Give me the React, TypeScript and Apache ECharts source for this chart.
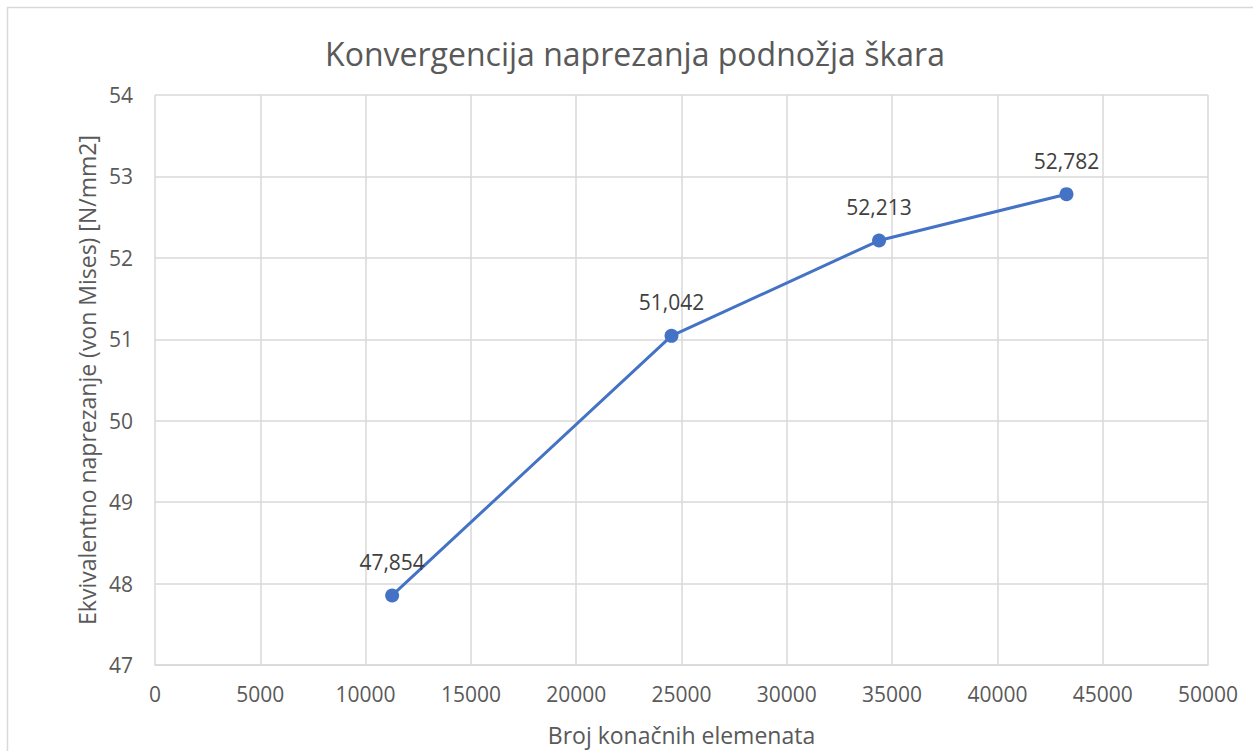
import React, { useEffect, useRef } from "react";
import * as echarts from "echarts";

const elementCounts = [11260, 24525, 34380, 43280];
const stressValues = [47.854, 51.042, 52.213, 52.782];
const titleText = "Konvergencija naprezanja podnožja škara";
const xAxisTitle = "Broj konačnih elemenata";
const yAxisTitle = "Ekvivalentno naprezanje (von Mises) [N/mm2]";

const FONT = "'Open Sans', 'Noto Sans', sans-serif";

export default function App() {
  const ref = useRef<HTMLDivElement>(null);
  useEffect(() => {
    if (!ref.current) return;
    const chart = echarts.init(ref.current, undefined, { renderer: "svg" });
    const points = elementCounts.map((x, i) => [x, stressValues[i]]);
    chart.setOption({
      animation: false,
      backgroundColor: "#ffffff",
      textStyle: { fontFamily: FONT },
      title: {
        text: titleText,
        left: 630,
        textAlign: "center",
        top: 32,
        textStyle: { fontFamily: FONT, fontSize: 32, fontWeight: "normal", color: "#595959" },
      },
      graphic: [
        {
          type: "rect",
          shape: { x: 7.5, y: 7.5, width: 1400, height: 900 },
          style: { fill: "none", stroke: "#d9d9d9", lineWidth: 1.5 },
          silent: true,
        },
      ],
      grid: { left: 155, top: 95, right: 45, bottom: 85, containLabel: false },
      xAxis: {
        type: "value",
        min: 0,
        max: 50000,
        interval: 5000,
        name: xAxisTitle,
        nameLocation: "middle",
        nameGap: 58,
        nameTextStyle: { fontFamily: FONT, fontSize: 23, color: "#595959" },
        axisLine: { show: true, lineStyle: { color: "#d9d9d9", width: 1.5 } },
        axisTick: { show: false },
        axisLabel: {
          fontFamily: FONT,
          fontSize: 21,
          color: "#595959",
          margin: 18,
          formatter: (v: number) => String(v),
        },
        splitLine: { show: true, lineStyle: { color: "#d9d9d9", width: 1.5 } },
      },
      yAxis: {
        type: "value",
        min: 47,
        max: 54,
        interval: 1,
        name: yAxisTitle,
        nameLocation: "middle",
        nameGap: 56,
        nameTextStyle: { fontFamily: FONT, fontSize: 23, color: "#595959" },
        axisLine: { show: false },
        axisTick: { show: false },
        axisLabel: { fontFamily: FONT, fontSize: 21, color: "#595959", margin: 22 },
        splitLine: { show: true, lineStyle: { color: "#d9d9d9", width: 1.5 } },
      },
      series: [
        {
          type: "line",
          data: points,
          symbol: "circle",
          symbolSize: 14,
          itemStyle: { color: "#4472C4" },
          lineStyle: { color: "#4472C4", width: 3 },
          label: {
            show: true,
            position: "top",
            distance: 16,
            fontFamily: FONT,
            fontSize: 21,
            color: "#404040",
            formatter: (p: any) => p.value[1].toFixed(3).replace(".", ","),
          },
        },
      ],
    });
    return () => chart.dispose();
  }, []);
  return (
    <div
      ref={ref}
      style={{ position: "absolute", left: 0, top: 0, width: 1253, height: 751 }}
    />
  );
}
